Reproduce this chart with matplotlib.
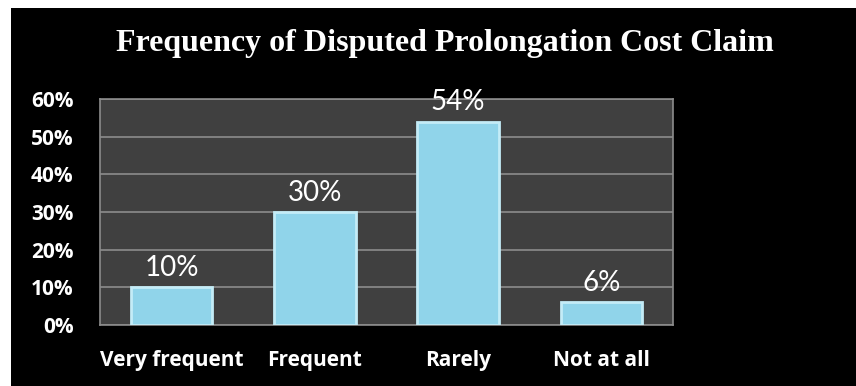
import matplotlib.pyplot as plt
from matplotlib.patches import Rectangle
from matplotlib.ticker import FuncFormatter

# Survey answers
categories = ["Very frequent", "Frequent", "Rarely", "Not at all"]
shares = [10, 30, 54, 6]
y_ticks = [0, 10, 20, 30, 40, 50, 60]

W, H = 856, 386
fig = plt.figure(figsize=(W / 100, H / 100), dpi=100, facecolor="white")

# black slide background with a thin white margin on the top and left
fig.patches.append(Rectangle((11 / W, 0), 1 - 11 / W, 1 - 8 / H,
                             transform=fig.transFigure, facecolor="black",
                             edgecolor="none", zorder=-5))

ax = fig.add_axes([100 / W, 1 - 325 / H, 573 / W, 226 / H])
ax.set_facecolor("#404040")

x = range(len(categories))
ax.bar(x, shares, width=0.57, color="#90d4ea", edgecolor="#c4ecf7",
       linewidth=2, zorder=3)

for xi, v in zip(x, shares):
    ax.annotate(f"{v}%", (xi, v), xytext=(0, 8), textcoords="offset points",
                ha="center", va="baseline", color="white", fontsize=20,
                family="Lato", zorder=4)

ax.set_xlim(-0.5, len(categories) - 0.5)
ax.set_ylim(0, 60)
ax.set_yticks(y_ticks)
ax.yaxis.set_major_formatter(FuncFormatter(lambda v, p: f"{v:.0f}%"))
ax.set_xticks(list(x))
ax.set_xticklabels(categories)

ax.grid(axis="y", color="#8c8c8c", linewidth=1.2, zorder=1)
ax.set_axisbelow(True)
ax.tick_params(length=0, colors="white", labelsize=15)
ax.tick_params(axis="y", pad=19)
ax.tick_params(axis="x", pad=18)
for lab in ax.get_xticklabels() + ax.get_yticklabels():
    lab.set_fontweight("bold")
    lab.set_family("Open Sans")

for s in ax.spines.values():
    s.set_color("#8c8c8c")
    s.set_linewidth(1.2)

fig.text(445 / W, 1 - 44 / H, "Frequency of Disputed Prolongation Cost Claim",
         ha="center", va="center", color="white", fontsize=23,
         fontweight="bold", family="Liberation Serif")

fig.savefig("out.png", dpi=100, facecolor="white")
